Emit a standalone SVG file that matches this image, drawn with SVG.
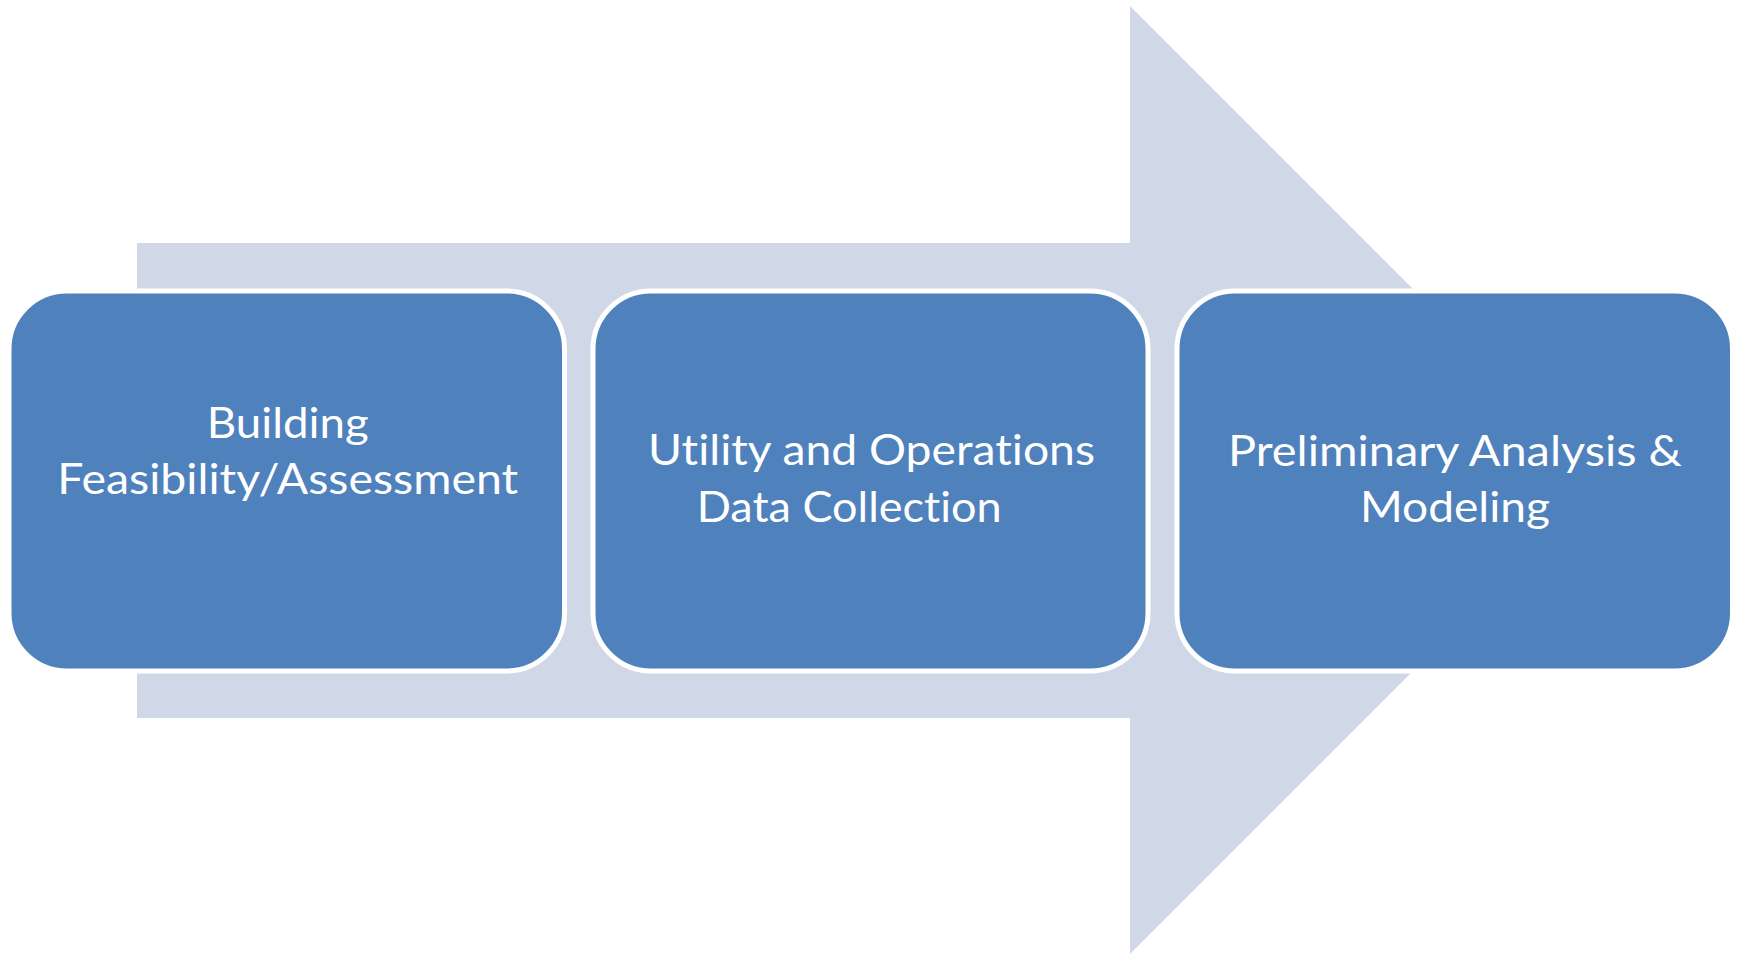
<svg xmlns="http://www.w3.org/2000/svg" width="1739" height="954" viewBox="0 0 1739 954">
  <style>
    .box { fill: #4F81BD; stroke: #FFFFFF; stroke-width: 5; }
    .lbl { fill: #FFFFFF; font-family: Lato, "Liberation Sans", sans-serif; font-size: 42px; text-anchor: middle; font-variant-ligatures: none; font-feature-settings: "liga" 0, "clig" 0, "dlig" 0; }
  </style>
  <rect x="0" y="0" width="1739" height="954" fill="#FFFFFF"/>
  <g id="arrow">
    <polygon points="137,243 1130,243 1130,6 1604,480 1130,954 1130,718 137,718" fill="#D0D8E8"/>
  </g>
  <g id="connectors"></g>
  <g id="node1">
    <rect class="box" x="9" y="291" width="555.5" height="380" rx="58" ry="58"/>
    <text class="lbl" x="287.7" y="438.3" textLength="162" lengthAdjust="spacingAndGlyphs">Building</text>
    <text class="lbl" x="287.7" y="494.3" textLength="461" lengthAdjust="spacingAndGlyphs">Feasibility/Assessment</text>
  </g>
  <g id="node2">
    <rect class="box" x="593" y="291" width="555" height="380" rx="58" ry="58"/>
    <text class="lbl" x="871.5" y="465" textLength="447" lengthAdjust="spacingAndGlyphs">Utility and Operations</text>
    <text class="lbl" x="849.2" y="521.7" textLength="305" lengthAdjust="spacingAndGlyphs">Data Collection</text>
  </g>
  <g id="node3">
    <rect class="box" x="1177" y="291" width="555.5" height="380" rx="58" ry="58"/>
    <text class="lbl" x="1455" y="465.5" textLength="454" lengthAdjust="spacingAndGlyphs">Preliminary Analysis &amp;</text>
    <text class="lbl" x="1455" y="521.7" textLength="190" lengthAdjust="spacingAndGlyphs">Modeling</text>
  </g>
</svg>
